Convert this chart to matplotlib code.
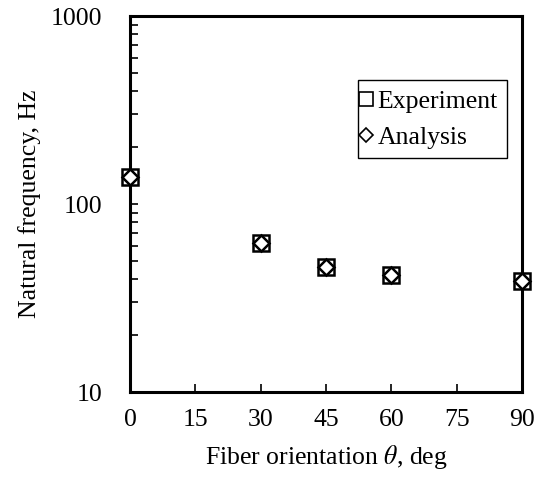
import matplotlib
matplotlib.use("Agg")
import matplotlib.pyplot as plt
from matplotlib.patches import Rectangle
from matplotlib.ticker import LogLocator, NullFormatter, FixedLocator, FixedFormatter

plt.rcParams['font.family'] = ['Liberation Serif', 'DejaVu Serif']
plt.rcParams['mathtext.fontset'] = 'stix'

# Fiber orientation (deg) and natural frequency (Hz)
orientation = [0, 30, 45, 60, 90]
experiment = [140, 62, 46, 42, 39]
analysis = [140, 62, 46, 42, 39]
x_ticks = [0, 15, 30, 45, 60, 75, 90]
y_ticks = [10, 100, 1000]

FS = 18.5

fig = plt.figure(figsize=(5.46, 4.90), dpi=100)
ax = fig.add_axes([130/546, 1 - 392/490, 392/546, 376/490])

ax.plot(orientation, experiment, linestyle='none', marker='s', markersize=12,
        markerfacecolor='white', markeredgecolor='black', markeredgewidth=1.8,
        label='Experiment', clip_on=False, zorder=3)
ax.plot(orientation, analysis, linestyle='none', marker='D', markersize=8.3,
        markerfacecolor='white', markeredgecolor='black', markeredgewidth=1.8,
        label='Analysis', clip_on=False, zorder=4)

ax.set_yscale('log')
ax.set_xlim(0, 90)
ax.set_ylim(10, 1000)
ax.xaxis.set_major_locator(FixedLocator(x_ticks))
ax.yaxis.set_major_locator(FixedLocator(y_ticks))
ax.yaxis.set_major_formatter(FixedFormatter([str(v) for v in y_ticks]))
ax.yaxis.set_minor_locator(LogLocator(base=10, subs=range(2, 10)))
ax.yaxis.set_minor_formatter(NullFormatter())

for s in ax.spines.values():
    s.set_linewidth(2.2)

ax.tick_params(axis='both', which='both', direction='in', labelsize=FS,
               top=False, right=False)
ax.tick_params(axis='x', which='major', length=6, width=1.2, pad=12)
ax.tick_params(axis='y', which='major', length=6, width=1.2, pad=20)
ax.tick_params(axis='y', which='minor', length=6, width=1.2)

ax.set_xlabel(r'Fiber orientation $\theta$, deg', fontsize=FS, labelpad=9)
ax.set_ylabel('Natural frequency, Hz', fontsize=FS, labelpad=7)

leg = ax.legend(loc='upper right', bbox_to_anchor=(0.938, 0.804), fontsize=FS,
                frameon=False, handlelength=0.5, handletextpad=0.18,
                borderpad=0, labelspacing=0.5, borderaxespad=0, markerscale=0.85)
for h in leg.legend_handles:
    h.set_markeredgewidth(1.2)

# Legend box with a tighter left margin than the default frame
fig.canvas.draw()
bb = leg.get_window_extent()
W, H = fig.bbox.width, fig.bbox.height
x0, x1 = bb.x0 - 2, bb.x1 + 9
y0, y1 = bb.y0 - 9, bb.y1 + 10
fig.patches.append(Rectangle((x0 / W, y0 / H), (x1 - x0) / W, (y1 - y0) / H,
                             transform=fig.transFigure, fill=False,
                             edgecolor='black', linewidth=1.0, zorder=5))

fig.savefig('out.png', dpi=100)
